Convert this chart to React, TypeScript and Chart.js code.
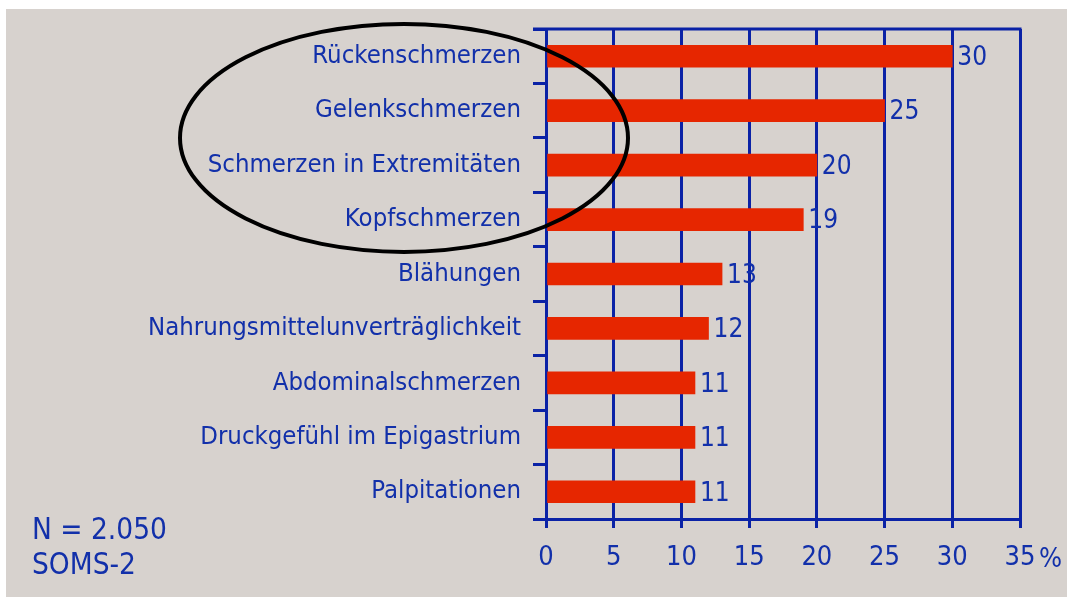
import React, { useEffect, useRef } from "react";
import { Chart, registerables } from "chart.js";

Chart.register(...registerables);

const categories = [
  "Rückenschmerzen",
  "Gelenkschmerzen",
  "Schmerzen in Extremitäten",
  "Kopfschmerzen",
  "Blähungen",
  "Nahrungsmittelunverträglichkeit",
  "Abdominalschmerzen",
  "Druckgefühl im Epigastrium",
  "Palpitationen",
];
const values = [30, 25, 20, 19, 13, 12, 11, 11, 11];
const xTicks = [0, 5, 10, 15, 20, 25, 30, 35];
const notes = ["N = 2.050", "SOMS-2"];

const BLUE = "#0a22a6";
const TEXT_BLUE = "#1230aa";
const RED = "#e62600";
const BG = "#d7d2ce";
const FONT = "'DejaVu Sans Condensed', 'DejaVu Sans', sans-serif";

export default function App() {
  const ref = useRef<HTMLCanvasElement>(null);

  useEffect(() => {
    if (!ref.current) return;
    const valueLabels = {
      id: "valueLabels",
      afterDatasetsDraw(chart: any) {
        const ctx = chart.ctx;
        const meta = chart.getDatasetMeta(0);
        ctx.save();
        ctx.fillStyle = TEXT_BLUE;
        ctx.font = `26px ${FONT}`;
        ctx.textAlign = "left";
        ctx.textBaseline = "middle";
        meta.data.forEach((el: any, i: number) => {
          ctx.fillText(String(values[i]), el.x + 5, el.y + 2);
        });
        ctx.restore();
      },
    };
    const frameAndOval = {
      id: "frameAndOval",
      afterDraw(chart: any) {
        const ctx = chart.ctx;
        const a = chart.chartArea;
        const y = chart.scales.y;
        ctx.save();
        ctx.strokeStyle = BLUE;
        ctx.lineWidth = 3;
        ctx.beginPath();
        ctx.moveTo(a.left - 13, a.top);
        ctx.lineTo(a.right + 1.5, a.top);
        ctx.stroke();
        // oval
        const cy = (y.getPixelForValue(0) + y.getPixelForValue(3)) / 2;
        ctx.strokeStyle = "#000";
        ctx.lineWidth = 4;
        ctx.beginPath();
        ctx.ellipse(a.left - 142, cy, 224, 114, 0, 0, Math.PI * 2);
        ctx.stroke();
        ctx.restore();
      },
    };
    const chart = new Chart(ref.current, {
      type: "bar",
      data: {
        labels: categories,
        datasets: [
          {
            data: values,
            backgroundColor: RED,
            borderWidth: 0,
            barThickness: 22,
          },
        ],
      },
      options: {
        indexAxis: "y",
        animation: false,
        responsive: false,
        maintainAspectRatio: false,
        layout: { padding: { top: 29, right: 47, left: 0, bottom: 0 } },
        plugins: { legend: { display: false }, tooltip: { enabled: false } },
        scales: {
          x: {
            min: 0,
            max: 35,
            afterFit(scale: any) {
              scale.height = 78;
            },
            afterBuildTicks(scale: any) {
              scale.ticks = xTicks.map((v) => ({ value: v }));
            },
            ticks: {
              color: TEXT_BLUE,
              font: { family: FONT, size: 27 },
              padding: 14,
              maxRotation: 0,
              callback: (v: any) => String(v),
            },
            grid: {
              color: BLUE,
              lineWidth: 3,
              tickLength: 9,
              drawTicks: true,
            },
            border: { color: BLUE, width: 3 },
          },
          y: {
            afterFit(scale: any) {
              scale.width = 546;
            },
            ticks: {
              color: TEXT_BLUE,
              font: { family: FONT, size: 25.5 },
              padding: 12,
            },
            grid: {
              offset: true,
              drawOnChartArea: false,
              color: BLUE,
              lineWidth: 3,
              tickLength: 13,
            },
            border: { color: BLUE, width: 3 },
          },
        },
      },
      plugins: [valueLabels, frameAndOval],
    });
    return () => chart.destroy();
  }, []);

  return (
    <div
      style={{
        position: "fixed",
        left: 0,
        top: 0,
        width: 1067,
        height: 597,
        background: "#fff",
        overflow: "hidden",
      }}
    >
      <div
        style={{
          position: "absolute",
          left: 6,
          top: 9,
          right: 0,
          bottom: 0,
          background: BG,
        }}
      />
      <canvas
        ref={ref}
        width={1067}
        height={597}
        style={{ position: "absolute", left: 0, top: 0, width: 1067, height: 597 }}
      />
      <span
        style={{
          position: "absolute",
          left: 1039,
          top: 543,
          color: TEXT_BLUE,
          fontFamily: FONT,
          fontSize: 27,
          lineHeight: "30px",
        }}
      >
        %
      </span>
      <div
        style={{
          position: "absolute",
          left: 32,
          top: 512,
          color: TEXT_BLUE,
          fontFamily: FONT,
          fontSize: 29.5,
          lineHeight: "35px",
        }}
      >
        {notes.map((n) => (
          <div key={n}>{n}</div>
        ))}
      </div>
    </div>
  );
}
